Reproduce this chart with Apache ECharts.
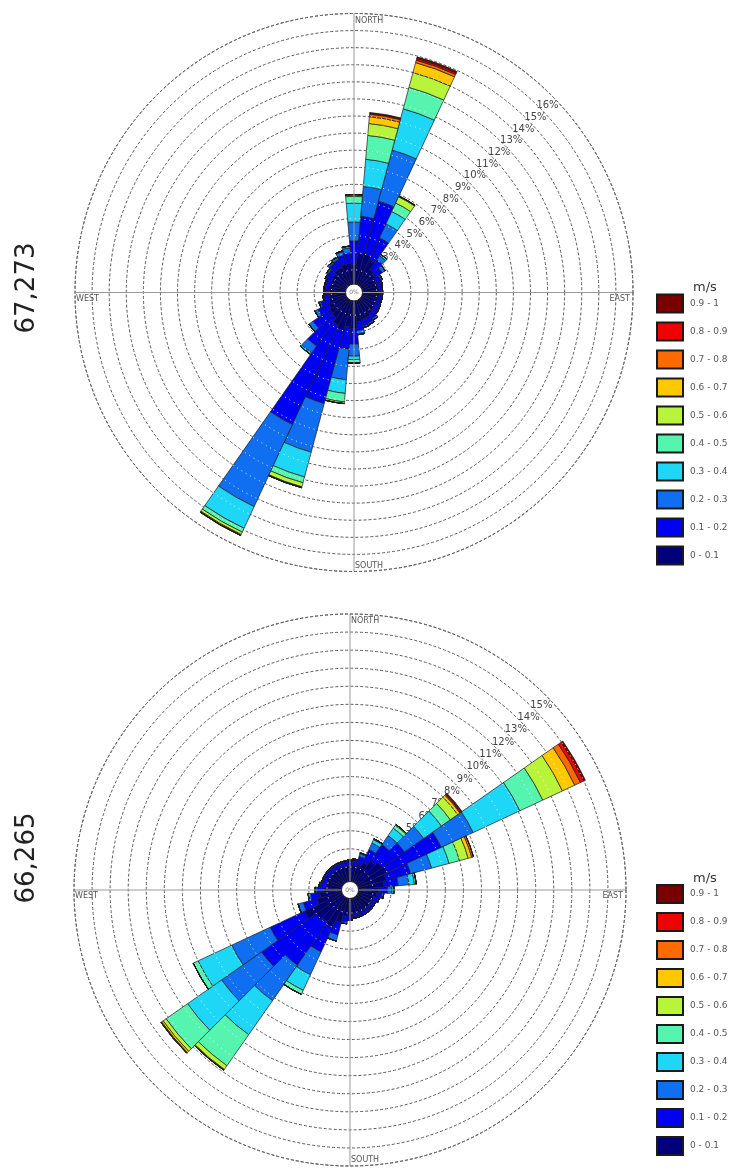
<!DOCTYPE html>
<html><head><meta charset="utf-8">
<script src="https://cdn.jsdelivr.net/npm/echarts@6/dist/echarts.min.js"></script>
<style>html,body{margin:0;padding:0;background:#fff}#c{width:734px;height:1169px}</style>
</head><body><div id="c"></div><script>
// wind directions (degrees, clockwise from north), 10-degree sectors
const directions = ['0','10','20','30','40','50','60','70','80','90','100','110','120','130','140','150','160','170',
  '180','190','200','210','220','230','240','250','260','270','280','290','300','310','320','330','340','350'];
const speedBins = ['0 - 0.1','0.1 - 0.2','0.2 - 0.3','0.3 - 0.4','0.4 - 0.5','0.5 - 0.6','0.6 - 0.7','0.7 - 0.8','0.8 - 0.9','0.9 - 1'];
const binColors = ['#00007a','#0000f5','#0f6ff0','#1ed6f5','#55f5b0','#b8f53a','#ffc800','#ff6a00','#f00000','#7a0000'];
const sideLabels = ['67,273','66,265'];
const compassNames = ['NORTH','EAST','SOUTH','WEST'];
const maxPct = [16, 15];

// ---- top rose (67,273): frequency % per direction, one array per speed bin
const top0 = [1.3,2.0,2.0,1.8,1.3,1.2,1.1,1.1,1.1,1.1, 1.1,1.1,1.1,1.1,1.2,1.3,1.3,1.4,1.8,1.7, 2.0,1.8,1.5,1.4,1.3,1.2,1.1,1.1,1.1,1.1, 1.15,1.2,1.3,1.3,1.4,1.4];
const top1 = [1.4,2.15,3.2,1.4,0.7,0.5,0.3,0.25,0.2,0.2, 0.2,0.2,0.25,0.3,0.35,0.35,0.4,0.5,0.9,1.3, 4.4,6.4,2.0,1.2,0.7,0.5,0.35,0.3,0.3,0.3, 0.35,0.35,0.45,0.5,0.55,0.6];
const top2 = [1.1,1.75,3.1,0.9,0.3,0.2,0.1,0.05,0.05,0.05, 0.05,0.05,0.05,0.05,0.1,0.1,0.1,0.2,0.7,1.8, 2.95,5.3,0.5,0.3,0.2,0.1,0.05,0.05,0.05,0.05, 0.05,0.1,0.1,0.15,0.2,0.3];
const top3 = [1.1,1.6,2.5,0.8,0.1,0,0,0,0,0, 0,0,0,0,0,0,0,0.05,0.2,0.8, 1.5,1.4,0.1,0,0,0,0,0,0,0, 0,0,0,0,0.05,0.1];
const top4 = [0.4,1.4,1.3,0.55,0,0,0,0,0,0, 0,0,0,0,0,0,0,0,0.2,0.5, 0.35,0.25,0,0,0,0,0,0,0,0, 0,0,0,0,0,0];
const top5 = [0.1,0.7,0.9,0.4,0,0,0,0,0,0, 0,0,0,0,0,0,0,0,0,0.1, 0.25,0.15,0,0,0,0,0,0,0,0, 0,0,0,0,0,0];
const top6 = [0,0.4,0.6,0.05,0,0,0,0,0,0, 0,0,0,0,0,0,0,0,0,0, 0.05,0.05,0,0,0,0,0,0,0,0, 0,0,0,0,0,0];
const top7 = [0,0.15,0.15,0,0,0,0,0,0,0, 0,0,0,0,0,0,0,0,0,0, 0,0.02,0,0,0,0,0,0,0,0, 0,0,0,0,0,0];
const top8 = [0,0.05,0.1,0,0,0,0,0,0,0, 0,0,0,0,0,0,0,0,0,0, 0,0,0,0,0,0,0,0,0,0, 0,0,0,0,0,0];
const top9 = [0,0.05,0.1,0,0,0,0,0,0,0, 0,0,0,0,0,0,0,0,0,0, 0,0,0,0,0,0,0,0,0,0, 0,0,0,0,0,0];

// ---- bottom rose (66,265)
const bot0 = [1.1,1.1,1.2,1.4,1.7,1.9,2.0,1.8,1.6,1.3, 1.2,1.1,1.05,1.05,1.05,1.05,1.05,1.05,1.1,1.2, 1.6,2.0,1.9,2.0,2.5,1.6,1.4,1.2,1.1,1.05, 1.05,1.05,1.05,1.05,1.05,1.05];
const bot1 = [0.25,0.3,0.45,0.8,1.1,1.5,3.3,1.4,0.8,0.5, 0.3,0.25,0.2,0.2,0.2,0.2,0.2,0.2,0.25,0.3, 0.7,1.5,2.9,3.7,2.1,0.8,0.5,0.35,0.3,0.25, 0.25,0.25,0.25,0.25,0.25,0.25];
const bot2 = [0.05,0.05,0.15,0.4,0.6,1.3,1.95,1.2,0.6,0.25, 0.1,0.05,0.05,0.05,0.05,0.05,0.05,0.05,0.05,0.1, 0.35,1.4,2.4,2.7,2.35,0.3,0.15,0.1,0.05,0.05, 0.05,0.05,0.05,0.05,0.05,0.05];
const bot3 = [0,0,0.05,0.2,0.5,1.2,2.85,1.0,0.3,0.1, 0,0,0,0,0,0,0,0,0,0, 0,0.95,2.3,2.3,2.05,0,0,0,0,0, 0,0,0,0,0,0];
const bot4 = [0,0,0,0.05,0.2,0.6,1.4,0.6,0.1,0, 0,0,0,0,0,0,0,0,0,0, 0,0.25,2.1,1.45,0.3,0,0,0,0,0, 0,0,0,0,0,0];
const bot5 = [0,0,0,0,0.05,0.5,1.2,0.5,0,0, 0,0,0,0,0,0,0,0,0,0, 0,0,0.25,0.2,0,0,0,0,0,0, 0,0,0,0,0,0];
const bot6 = [0,0,0,0,0,0.15,0.75,0.2,0,0, 0,0,0,0,0,0,0,0,0,0, 0,0,0.05,0.1,0,0,0,0,0,0, 0,0,0,0,0,0];
const bot7 = [0,0,0,0,0,0.05,0.35,0.1,0,0, 0,0,0,0,0,0,0,0,0,0, 0,0,0,0.05,0,0,0,0,0,0, 0,0,0,0,0,0];
const bot8 = [0,0,0,0,0,0.05,0.2,0,0,0, 0,0,0,0,0,0,0,0,0,0, 0,0,0,0,0,0,0,0,0,0, 0,0,0,0,0,0];
const bot9 = [0,0,0,0,0,0.05,0.1,0,0,0, 0,0,0,0,0,0,0,0,0,0, 0,0,0,0,0,0,0,0,0,0, 0,0,0,0,0,0];

const roseData = [
  [top0,top1,top2,top3,top4,top5,top6,top7,top8,top9],
  [bot0,bot1,bot2,bot3,bot4,bot5,bot6,bot7,bot8,bot9]
];

// ---- layout
const layout = [
  {cx: 354, cy: 292.5, r0: 5.6, R: 279, legendTop: 288.5, titleTop: 276, sideY: 288},
  {cx: 350, cy: 890, r0: 5, R: 276, legendTop: 879, titleTop: 867, sideY: 858}
];
const FONT = '"DejaVu Sans", Verdana, sans-serif';

const polar = [], angleAxis = [], radiusAxis = [], series = [], graphic = [], legend = [], title = [];
layout.forEach((L, k) => {
  const base = k * 3;
  const mx = maxPct[k];
  // data polar
  polar.push({center: [L.cx, L.cy], radius: [L.r0, L.R]});
  angleAxis.push({polarIndex: base, type: 'category', data: directions, startAngle: 95, clockwise: true,
    boundaryGap: true, axisLine: {show: false}, axisTick: {show: false}, axisLabel: {show: false}, splitLine: {show: false}, z: 0});
  radiusAxis.push({polarIndex: base, type: 'value', min: 0, max: mx, interval: 1,
    axisLine: {show: false}, axisTick: {show: false}, axisLabel: {show: false},
    splitLine: {show: true, lineStyle: {color: '#5a5a5a', width: 1, type: [3, 2]}}, z: 0});
  // overlay polar: cross lines, outer circle, white dots
  polar.push({center: [L.cx, L.cy], radius: [L.r0, L.R]});
  angleAxis.push({polarIndex: base + 1, type: 'value', min: 0, max: 360, interval: 90, startAngle: 90,
    axisLine: {show: true, lineStyle: {color: '#666', width: 1, type: [3, 2]}},
    axisTick: {show: false}, axisLabel: {show: false},
    splitLine: {show: true, lineStyle: {color: '#9a9a9a', width: 1}}, z: 5});
  radiusAxis.push({polarIndex: base + 1, type: 'value', min: 0, max: mx, interval: 1,
    axisLine: {show: false}, axisTick: {show: false}, axisLabel: {show: false},
    splitLine: {show: true, lineStyle: {color: '#ffffff', width: 1, type: [1, 4], dashOffset: 1.5}}, z: 5});
  // label polar (percent labels along the NE diagonal)
  polar.push({center: [L.cx, L.cy], radius: [0, L.R - 10]});
  angleAxis.push({polarIndex: base + 2, type: 'value', min: 0, max: 360, startAngle: 44, show: false});
  radiusAxis.push({polarIndex: base + 2, type: 'value', min: 0, max: mx, interval: 1,
    axisLine: {show: false}, axisTick: {show: false}, splitLine: {show: false},
    axisLabel: {show: true, margin: 0, align: 'center', verticalAlign: 'middle', color: '#444', fontSize: 10, fontFamily: FONT,
      formatter: v => (v >= 1 ? v + '%' : '')}, z: 1});

  roseData[k].forEach((arr, i) => {
    series.push({type: 'bar', coordinateSystem: 'polar', polarIndex: base, stack: 'rose' + k,
      name: speedBins[i], data: arr, barCategoryGap: '0%', barGap: '0%', z: 2,
      itemStyle: {color: binColors[i], borderColor: '#1a1a1a', borderWidth: 0.7},
      emphasis: {disabled: true}, animation: false});
  });

  legend.push({data: speedBins.slice().reverse(), orient: 'vertical', left: 651, top: L.legendTop,
    itemWidth: 26, itemHeight: 18, itemGap: 8, icon: 'rect', selectedMode: false,
    textStyle: {color: '#555', fontSize: 9, fontFamily: FONT, padding: [0, 0, 0, 2]}});
  title.push({text: 'm/s', left: 688, top: L.titleTop, textStyle: {fontSize: 13, fontWeight: 'normal', color: '#333', fontFamily: FONT}});

  // compass words, inside the outer circle
  const cf = '8px ' + FONT;
  graphic.push({type: 'text', z: 100, style: {text: compassNames[0], x: L.cx + 1, y: L.cy - L.R + 3, align: 'left', verticalAlign: 'top', font: cf, fill: '#555'}});
  graphic.push({type: 'text', z: 100, style: {text: compassNames[2], x: L.cx + 1, y: L.cy + L.R - 2, align: 'left', verticalAlign: 'bottom', font: cf, fill: '#555'}});
  graphic.push({type: 'text', z: 100, style: {text: compassNames[3], x: L.cx - L.R + 1, y: L.cy + 2, align: 'left', verticalAlign: 'top', font: cf, fill: '#555'}});
  graphic.push({type: 'text', z: 100, style: {text: compassNames[1], x: L.cx + L.R - 3, y: L.cy + 2, align: 'right', verticalAlign: 'top', font: cf, fill: '#555'}});
  // center hole
  graphic.push({type: 'circle', z: 100, shape: {cx: L.cx, cy: L.cy, r: 8.5}, style: {fill: '#fff', stroke: '#222', lineWidth: 1}});
  graphic.push({type: 'text', z: 101, style: {text: '0%', x: L.cx, y: L.cy, align: 'center', verticalAlign: 'middle', font: '6px ' + FONT, fill: '#777'}});
  // side caption
  graphic.push({type: 'text', z: 100, x: 27, y: L.sideY, rotation: Math.PI / 2,
    style: {text: sideLabels[k], x: 0, y: 0, align: 'center', verticalAlign: 'middle', font: '26px ' + FONT, fill: '#222'}});
});

const chart = echarts.init(document.getElementById('c'), null, {renderer: 'canvas'});
chart.setOption({animation: false, backgroundColor: '#fff', polar, angleAxis, radiusAxis, series, legend, title, graphic});
</script></body></html>
